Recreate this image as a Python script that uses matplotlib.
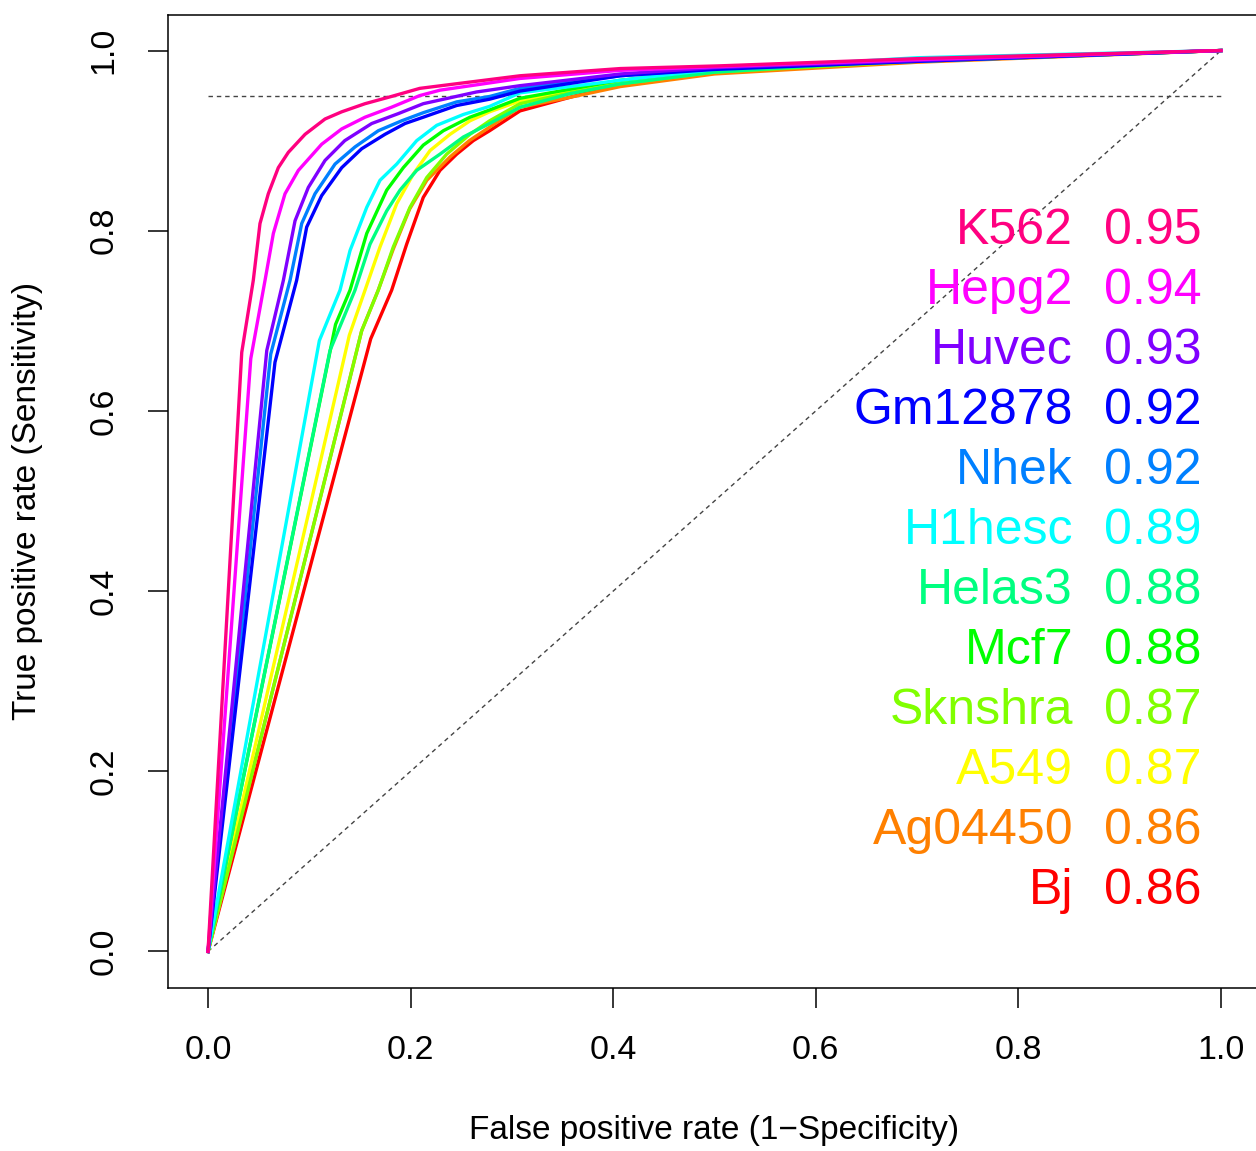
import matplotlib
matplotlib.use("Agg")
import matplotlib.pyplot as plt

plt.rcParams['font.family'] = ['Liberation Sans', 'DejaVu Sans']

# cell lines, ordered by AUC (legend order)
cells = ["K562", "Hepg2", "Huvec", "Gm12878", "Nhek", "H1hesc",
         "Helas3", "Mcf7", "Sknshra", "A549", "Ag04450", "Bj"]
auc = [0.95, 0.94, 0.93, 0.92, 0.92, 0.89, 0.88, 0.88, 0.87, 0.87, 0.86, 0.86]
colors = ["#FF0080", "#FF00FF", "#8000FF", "#0000FF", "#0080FF", "#00FFFF",
          "#00FF80", "#00FF00", "#80FF00", "#FFFF00", "#FF8000", "#FF0000"]

# ROC curves (false positive rate, true positive rate)
fpr_k562 = [0, 0.0333, 0.0447, 0.0513, 0.0595, 0.0694, 0.0793, 0.0958, 0.1155, 0.132, 0.155, 0.181, 0.209, 0.308, 0.407, 0.505, 0.7, 1]
tpr_k562 = [0, 0.665, 0.745, 0.808, 0.841, 0.870, 0.887, 0.907, 0.924, 0.932, 0.941, 0.949, 0.958, 0.972, 0.980, 0.983, 0.991, 1]

fpr_hepg2 = [0, 0.0422, 0.0563, 0.0645, 0.076, 0.0892, 0.1122, 0.132, 0.155, 0.181, 0.209, 0.229, 0.308, 0.407, 0.5, 0.7, 1]
tpr_hepg2 = [0, 0.658, 0.745, 0.797, 0.841, 0.867, 0.896, 0.913, 0.926, 0.937, 0.950, 0.956, 0.969, 0.978, 0.982, 0.990, 1]

fpr_huvec = [0, 0.058, 0.0744, 0.0859, 0.099, 0.1155, 0.135, 0.1616, 0.1879, 0.2125, 0.265, 0.308, 0.407, 0.5, 0.7, 1]
tpr_huvec = [0, 0.667, 0.745, 0.811, 0.848, 0.878, 0.900, 0.919, 0.930, 0.941, 0.954, 0.961, 0.974, 0.981, 0.989, 1]

fpr_gm12878 = [0, 0.0661, 0.0875, 0.0974, 0.1122, 0.132, 0.1517, 0.1747, 0.1945, 0.2125, 0.2455, 0.278, 0.308, 0.407, 0.5, 0.7, 1]
tpr_gm12878 = [0, 0.654, 0.745, 0.804, 0.839, 0.870, 0.891, 0.907, 0.919, 0.926, 0.939, 0.946, 0.955, 0.972, 0.979, 0.988, 1]

fpr_nhek = [0, 0.0619, 0.081, 0.0925, 0.1056, 0.1254, 0.1451, 0.1681, 0.1912, 0.2125, 0.2455, 0.278, 0.308, 0.407, 0.5, 0.7, 1]
tpr_nhek = [0, 0.663, 0.745, 0.808, 0.841, 0.874, 0.893, 0.911, 0.922, 0.931, 0.943, 0.949, 0.958, 0.972, 0.980, 0.988, 1]

fpr_h1hesc = [0, 0.1099, 0.1303, 0.1402, 0.1567, 0.1698, 0.1863, 0.206, 0.2258, 0.252, 0.278, 0.308, 0.407, 0.5, 0.7, 1]
tpr_h1hesc = [0, 0.678, 0.734, 0.778, 0.826, 0.856, 0.874, 0.900, 0.917, 0.929, 0.938, 0.953, 0.967, 0.979, 0.992, 1]

fpr_helas3 = [0, 0.1204, 0.1451, 0.1599, 0.1764, 0.1895, 0.206, 0.229, 0.252, 0.278, 0.308, 0.357, 0.407, 0.5, 0.7, 1]
tpr_helas3 = [0, 0.667, 0.734, 0.785, 0.822, 0.845, 0.867, 0.885, 0.904, 0.919, 0.937, 0.952, 0.963, 0.976, 0.990, 1]

fpr_mcf7 = [0, 0.1259, 0.1402, 0.1567, 0.1764, 0.1928, 0.2125, 0.2323, 0.2586, 0.278, 0.308, 0.357, 0.407, 0.5, 0.7, 1]
tpr_mcf7 = [0, 0.696, 0.734, 0.797, 0.845, 0.870, 0.895, 0.911, 0.926, 0.934, 0.947, 0.957, 0.967, 0.978, 0.989, 1]

fpr_sknshra = [0, 0.1517, 0.1681, 0.1829, 0.1994, 0.2159, 0.2356, 0.2586, 0.278, 0.308, 0.357, 0.407, 0.5, 0.7, 1]
tpr_sknshra = [0, 0.689, 0.734, 0.782, 0.826, 0.859, 0.885, 0.907, 0.922, 0.941, 0.953, 0.963, 0.976, 0.988, 1]

fpr_a549 = [0, 0.1395, 0.155, 0.1698, 0.1863, 0.2027, 0.2192, 0.2389, 0.2586, 0.278, 0.308, 0.357, 0.407, 0.5, 0.7, 1]
tpr_a549 = [0, 0.684, 0.734, 0.782, 0.830, 0.863, 0.889, 0.907, 0.922, 0.932, 0.944, 0.955, 0.965, 0.977, 0.989, 1]

fpr_ag04450 = [0, 0.1517, 0.168, 0.183, 0.199, 0.216, 0.239, 0.258, 0.278, 0.308, 0.357, 0.407, 0.5, 0.7, 1]
tpr_ag04450 = [0, 0.689, 0.734, 0.780, 0.824, 0.856, 0.882, 0.900, 0.915, 0.937, 0.948, 0.960, 0.974, 0.987, 1]

fpr_bj = [0, 0.1606, 0.1813, 0.1961, 0.2125, 0.229, 0.2455, 0.2619, 0.278, 0.308, 0.357, 0.407, 0.5, 0.7, 1]
tpr_bj = [0, 0.680, 0.734, 0.785, 0.837, 0.867, 0.885, 0.900, 0.911, 0.933, 0.948, 0.963, 0.975, 0.988, 1]

fprs = [fpr_k562, fpr_hepg2, fpr_huvec, fpr_gm12878, fpr_nhek, fpr_h1hesc,
        fpr_helas3, fpr_mcf7, fpr_sknshra, fpr_a549, fpr_ag04450, fpr_bj]
tprs = [tpr_k562, tpr_hepg2, tpr_huvec, tpr_gm12878, tpr_nhek, tpr_h1hesc,
        tpr_helas3, tpr_mcf7, tpr_sknshra, tpr_a549, tpr_ag04450, tpr_bj]

W, H = 1256, 1151
fig = plt.figure(figsize=(W / 100, H / 100), dpi=100)
ax = fig.add_axes([167.5 / W, (H - 987.5) / H, 1094 / W, 973 / H])

# reference lines
ax.plot([0, 1], [0, 1], color="#444444", lw=1.0, ls=(0, (3.2, 2.8)))
ax.plot([0, 1], [0.95, 0.95], color="#444444", lw=1.0, ls=(0, (3.2, 2.8)))

# lowest AUC first so K562 ends up on top
for i in range(len(cells) - 1, -1, -1):
    ax.plot(fprs[i], tprs[i], color=colors[i], lw=2.4, solid_joinstyle="round")

# legend: name + AUC
y0, dy = 0.7855, 0.0666
for i, (name, a, c) in enumerate(zip(cells, auc, colors)):
    y = y0 - i * dy
    ax.text(0.854, y, name, color=c, fontsize=36, ha="right", va="baseline")
    ax.text(0.8845, y, f"{a:.2f}", color=c, fontsize=36, ha="left", va="baseline")

ax.set_xlim(-0.04, 1.04)
ax.set_ylim(-0.04, 1.04)
ticks = [0, 0.2, 0.4, 0.6, 0.8, 1.0]
ax.set_xticks(ticks)
ax.set_xticklabels([f"{t:.1f}" for t in ticks])
ax.set_yticks(ticks)
ax.set_yticklabels([f"{t:.1f}" for t in ticks], rotation=90, va="center")
ax.tick_params(length=14.5, width=1.1, pad=20, labelsize=24.5)
for s in ax.spines.values():
    s.set_linewidth(1.1)

fig.text(714.5 / W, 1 - 1130 / H, "False positive rate (1\u2212Specificity)",
         fontsize=24, ha="center", va="center")
fig.text(28 / W, 1 - 501 / H, "True positive rate (Sensitivity)",
         fontsize=24, ha="center", va="center", rotation=90)

fig.savefig("out.png", dpi=100)
